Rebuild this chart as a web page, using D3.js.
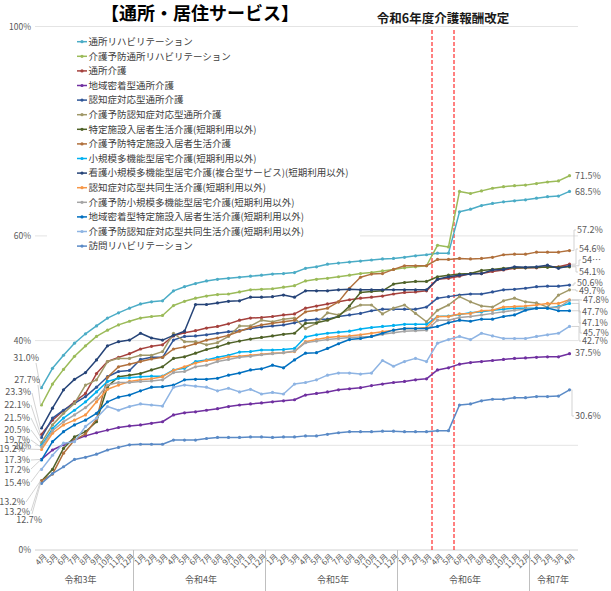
<!DOCTYPE html>
<html><head><meta charset="utf-8">
<script src="https://cdn.jsdelivr.net/npm/d3@7"></script>
<style>
body{margin:0;background:#fff;}
svg{display:block;font-family:"Noto Sans CJK JP","Noto Sans",sans-serif;}
</style>
</head><body>
<svg id="chart" width="611" height="591"></svg>
<script>
// ---------- data ----------
const monthLabels = [
  "4月","5月","6月","7月","8月","9月","10月","11月","12月",
  "1月","2月","3月","4月","5月","6月","7月","8月","9月","10月","11月","12月",
  "1月","2月","3月","4月","5月","6月","7月","8月","9月","10月","11月","12月",
  "1月","2月","3月","4月","5月","6月","7月","8月","9月","10月","11月","12月",
  "1月","2月","3月","4月"];
const yearLabels = ["令和3年","令和4年","令和5年","令和6年","令和7年"];
const yearLengths = [9,12,12,12,4];
const yTicks = [0,20,40,60,100];
const revisionStartIndex = [36, 38];   // 令和6年4月, 6月

const seriesNames = [
  "通所リハビリテーション",
  "介護予防通所リハビリテーション",
  "通所介護",
  "地域密着型通所介護",
  "認知症対応型通所介護",
  "介護予防認知症対応型通所介護",
  "特定施設入居者生活介護(短期利用以外)",
  "介護予防特定施設入居者生活介護",
  "小規模多機能型居宅介護(短期利用以外)",
  "看護小規模多機能型居宅介護(複合型サービス)(短期利用以外)",
  "認知症対応型共同生活介護(短期利用以外)",
  "介護予防小規模多機能型居宅介護(短期利用以外)",
  "地域密着型特定施設入居者生活介護(短期利用以外)",
  "介護予防認知症対応型共同生活介護(短期利用以外)",
  "訪問リハビリテーション"];

const tsushoReha = [31.0,34.7,37.2,39.5,41.3,42.8,44.3,45.3,46.2,47.0,47.4,47.6,49.5,50.3,50.9,51.4,51.7,51.9,52.1,52.3,52.5,52.7,52.8,53.0,
  53.8,54.1,54.6,54.8,55.0,55.2,55.4,55.6,55.7,55.9,56.2,56.4,
  56.7,56.7,64.6,65.1,65.8,66.2,66.5,66.7,66.9,67.2,67.5,67.6,68.5];
const yoboTsushoReha = [27.7,31.7,34.5,37.0,39.0,40.8,42.0,43.0,43.7,44.3,44.6,44.8,46.7,47.5,48.1,48.5,48.8,48.9,49.3,49.7,49.8,49.9,50.2,50.5,
  51.4,51.7,51.9,52.2,52.5,52.8,53.0,53.3,53.6,53.9,54.1,54.3,
  58.2,57.9,68.5,68.1,68.6,69.1,69.4,69.6,69.7,70.0,70.3,70.5,71.5];
const tsushoKaigo = [22.1,24.8,26.6,28.3,29.9,33.7,36.0,36.8,37.5,38.4,38.9,39.2,40.9,41.5,41.9,42.4,42.7,43.2,43.9,44.3,44.4,44.6,44.9,45.1,
  46.2,46.6,47.0,47.4,47.8,48.1,48.3,48.5,48.9,49.2,49.3,49.5,
  51.7,51.9,52.3,52.8,52.8,53.2,53.5,53.8,53.9,53.9,54.1,54.1,54.6];
const chiikiTsusho = [17.3,19.1,20.1,21.0,21.8,22.4,22.9,23.4,23.7,23.9,24.2,24.5,25.8,26.2,26.4,26.7,27.0,27.4,27.7,27.9,28.1,28.3,28.5,28.7,
  29.6,29.9,30.2,30.6,30.8,31.0,31.4,31.7,32.0,32.2,32.5,32.7,
  34.4,34.8,35.5,35.8,36.0,36.2,36.4,36.6,36.7,36.8,36.9,36.9,37.5];
const ninchiTsusho = [21.5,25.2,26.7,28.0,29.3,31.1,33.1,34.1,34.3,36.4,36.8,36.8,40.1,40.8,40.9,41.1,41.4,41.7,41.9,42.3,42.6,42.8,43.0,43.4,
  43.9,44.1,44.1,44.6,44.9,45.2,45.7,46.0,46.0,46.0,46.0,46.4,
  48.1,48.4,48.7,48.9,48.9,49.3,49.7,49.8,50.0,50.3,50.4,50.4,50.6];
const yoboNinchiTsusho = [20.5,23.9,26.1,28.0,31.5,32.5,36.0,36.6,36.6,37.2,37.2,37.9,41.4,39.8,39.8,39.2,39.6,40.8,42.8,42.8,43.9,43.6,44.1,44.3,
  42.3,43.3,45.3,44.9,46.0,46.8,46.8,45.1,46.2,46.8,45.2,43.6,
  45.8,46.8,48.4,47.4,46.6,46.4,47.6,48.1,47.4,47.2,46.4,48.7,49.7];
const tokutei = [13.2,15.4,19.4,21.6,22.6,24.5,31.2,33.1,33.4,33.7,34.4,35.0,36.6,36.9,37.6,38.3,38.8,39.5,39.9,40.3,40.6,40.9,41.2,41.4,
  43.3,43.4,43.9,44.6,46.6,49.2,49.4,49.5,50.8,51.1,51.3,51.3,
  52.2,52.5,52.7,52.8,53.4,53.6,53.8,53.9,53.9,54.0,54.0,54.0,54.1];
const yoboTokutei = [13.2,14.5,18.5,21.0,22.2,25.0,33.0,35.0,35.5,36.0,36.5,36.8,38.4,38.8,39.4,40.1,40.5,41.0,41.8,42.5,43.0,43.3,43.6,43.9,
  45.5,45.8,46.2,47.4,50.0,52.1,52.7,52.8,53.6,54.3,54.3,54.3,
  55.5,55.5,55.7,55.6,55.7,55.9,56.4,56.5,56.5,56.9,56.9,56.9,57.2];
const shokibo = [20.0,23.2,25.2,26.7,28.3,30.2,32.2,32.8,32.9,33.1,33.2,33.2,34.4,34.7,36.0,36.3,36.8,37.2,37.8,37.9,38.2,38.2,38.3,38.5,
  40.7,41.1,41.4,41.6,41.8,42.2,42.5,42.7,42.9,43.1,43.1,43.1,
  44.6,44.7,45.0,45.3,45.5,45.8,46.0,46.2,46.2,46.2,46.2,46.5,47.1];
const kangoShokibo = [23.3,27.1,30.6,32.6,33.9,36.3,39.0,39.8,40.1,41.4,40.5,40.1,41.0,41.8,46.9,46.9,47.2,47.5,47.6,48.3,48.3,48.4,48.7,48.3,
  49.5,49.5,49.5,49.7,49.8,49.7,49.7,49.7,49.7,49.7,49.7,49.7,
  51.7,52.2,52.5,52.7,52.8,53.5,53.6,54.1,54.0,54.1,54.4,53.8,54.3];
const ninchiGH = [19.2,22.3,23.9,24.8,25.8,28.3,30.7,31.5,32.2,32.5,32.7,33.1,34.3,35.0,35.7,36.2,36.4,36.9,37.0,37.2,37.4,37.6,37.7,37.9,
  39.8,40.2,40.6,40.8,40.9,41.1,41.4,41.7,42.0,42.3,42.3,42.5,
  44.6,44.6,45.1,45.2,45.7,45.8,46.4,46.5,46.6,46.8,47.1,47.1,47.8];
const yoboShokibo = [19.7,22.8,24.5,25.8,27.2,29.0,31.5,32.0,32.0,32.2,32.3,32.5,33.9,34.1,35.0,35.3,36.0,36.4,36.8,37.0,37.3,37.5,37.7,38.0,
  39.6,39.9,40.2,40.4,40.6,40.7,40.8,41.2,41.5,41.8,41.9,42.0,
  43.9,43.9,44.4,44.6,44.9,45.2,45.5,45.8,46.0,46.2,46.3,46.3,47.7];
const chiikiTokutei = [17.2,20.7,22.6,23.9,24.8,26.1,28.3,29.2,29.6,30.4,31.1,31.2,31.5,32.5,32.6,32.6,32.8,33.4,33.8,34.4,34.6,35.3,34.8,36.3,
  37.6,37.7,38.5,39.4,40.2,40.4,40.8,41.4,42.0,42.3,42.3,42.3,
  42.7,43.4,43.9,43.7,44.1,44.1,44.6,44.9,45.8,46.2,46.2,45.7,45.7];
const yoboNinchiGH = [15.4,18.1,20.4,20.7,23.6,25.2,27.4,26.7,27.4,27.9,27.7,27.5,31.1,31.5,31.3,31.1,30.4,30.9,30.2,30.7,29.8,30.1,29.8,31.7,
  32.0,32.5,33.4,33.8,33.8,33.6,33.8,36.2,35.1,36.0,36.6,36.0,
  39.5,40.2,40.8,40.2,41.4,40.9,40.4,40.4,40.4,40.8,41.1,41.4,42.7];
const homonReha = [12.7,14.6,15.9,17.3,17.7,18.3,19.1,19.6,20.1,20.2,20.2,20.2,21.0,21.0,21.0,21.3,21.5,21.5,21.5,21.6,21.6,21.5,21.6,21.6,
  21.8,21.8,22.1,22.4,22.6,22.6,22.6,22.7,22.7,22.6,22.6,22.6,
  22.8,22.8,27.7,27.9,28.5,28.8,28.8,29.1,29.1,29.3,29.3,29.4,30.6];

const seriesValues = [tsushoReha, yoboTsushoReha, tsushoKaigo, chiikiTsusho, ninchiTsusho,
  yoboNinchiTsusho, tokutei, yoboTokutei, shokibo, kangoShokibo, ninchiGH, yoboShokibo,
  chiikiTokutei, yoboNinchiGH, homonReha];

// ---------- styles / layout ----------
const colors = ["#4BACC6","#9BBB59","#A5413D","#7030A0","#2F5597","#A09868","#4F6228",
  "#B0703C","#00B0F0","#264478","#F79646","#A5A5A5","#0070C0","#8EB4E3","#5A8AC6"];
// start labels: [right edge x, label y, leader start x, leader start y] (null = hidden)
const startLayout = [
  [39,358,36,363],[40,380,38,385],[30,405,31,405],[30,460,31,460],[30,418,31,418],
  [30,430,31,430],[25,502,26,502],[30,512,31,511],null,[31,392,32,393],
  [25,449,26,449],[30,440,31,440],[30,470,31,469],[30,483,31,482],[42,520,32,514]];
// end labels: [left x, label y, truncated]
const endLayout = [
  [575,192],[575,176],[579,249],[575,353],[577,283],[579,291],[579,272],[577,230],
  [582,323],[582,260,true],[583,300],[582,312],[583,333],[582,341],[575,416]];

const svg = d3.select("#chart");
const x = d3.scalePoint().domain(d3.range(monthLabels.length)).range([41.5, 569.5]);
const y = d3.scaleLinear().domain([0,100]).range([550, 26.5]);
const step = x.step();
const fmt = d3.format(".1f");
const grey = "#595959";
const labelFont = "9px";

// gridlines
svg.append("g").selectAll("line").data(yTicks).join("line")
  .attr("x1",35).attr("x2",578).attr("y1",d=>y(d)).attr("y2",d=>y(d))
  .attr("stroke",d=>d===0?"#d0d0d0":"#e4e4e4").attr("stroke-width",1);

// y axis labels
const yAxis = d3.axisLeft(y).tickValues(yTicks).tickFormat(d=>d+"%").tickSize(0).tickPadding(0);
const ya = svg.append("g").attr("transform","translate(31,0)").call(yAxis);
ya.select(".domain").remove();
ya.selectAll("text").attr("fill",grey).style("font-size","8.5px").style("font-family",'"Noto Sans CJK JP",sans-serif');

// x axis month labels
const xl = svg.append("g");
xl.selectAll("text").data(monthLabels).join("text")
  .attr("transform",(d,i)=>`translate(${x(i)+4},555) rotate(-45)`)
  .attr("text-anchor","end").attr("dy","0.35em")
  .attr("fill",grey).style("font-size","8px").text(d=>d);

// year groups
let cum = 0;
const groups = yearLabels.map((lab,k)=>{ const s=cum; cum+=yearLengths[k]; return {lab,s,e:cum-1}; });
svg.append("g").selectAll("line").data(groups.slice(1)).join("line")
  .attr("x1",d=>x(d.s)-step/2-1.5).attr("x2",d=>x(d.s)-step/2-1.5)
  .attr("y1",550).attr("y2",591).attr("stroke","#bfbfbf");
svg.append("g").selectAll("text").data(groups).join("text")
  .attr("x",(d,k)=>(x(d.s)+x(d.e))/2 - (k===0?5:0)).attr("y",583).attr("text-anchor","middle")
  .attr("fill",grey).style("font-size","9px").text(d=>d.lab);

// revision dashed lines
svg.append("g").selectAll("line").data(revisionStartIndex).join("line")
  .attr("x1",d=>x(d)-step/2).attr("x2",d=>x(d)-step/2)
  .attr("y1",30).attr("y2",550)
  .attr("stroke","#FF0000").attr("stroke-width",1).attr("stroke-dasharray","4,2");

// series lines
const line = d3.line().x((d,i)=>x(i)).y(d=>y(d));
const sg = svg.append("g").selectAll("g").data(seriesValues).join("g");
sg.append("path").attr("d",d=>line(d)).attr("fill","none")
  .attr("stroke",(d,i)=>colors[i]).attr("stroke-width",1.5).attr("stroke-linejoin","round");
sg.each(function(vals,si){
  d3.select(this).selectAll("circle").data(vals).join("circle")
    .attr("cx",(d,i)=>x(i)).attr("cy",d=>y(d)).attr("r",1.6).attr("fill",colors[si]);
});

// start labels
const sl = svg.append("g");
seriesValues.forEach((vals,i)=>{
  const L = startLayout[i]; if(!L) return;
  sl.append("line").attr("x1",L[2]).attr("y1",L[3]).attr("x2",x(0)-1).attr("y2",y(vals[0]))
    .attr("stroke","#c8c8c8").attr("stroke-width",0.8);
  sl.append("text").attr("x",L[0]).attr("y",L[1]).attr("dy","0.35em").attr("text-anchor","end")
    .attr("fill",grey).style("font-size",labelFont).text(fmt(vals[0])+"%");
});
// end labels
const el = svg.append("g");
seriesValues.forEach((vals,i)=>{
  const L = endLayout[i]; const last = vals[vals.length-1];
  const px = x(vals.length-1), py = y(last);
  if (Math.abs(L[1]-py) > 3 || L[0]-px > 6)
    el.append("polyline").attr("points",`${px+2},${py} ${L[0]-3},${py} ${L[0]-3},${L[1]} ${L[0]-1},${L[1]}`)
      .attr("fill","none").attr("stroke","#c8c8c8").attr("stroke-width",0.8);
  el.append("text").attr("x",L[0]).attr("y",L[1]).attr("dy","0.35em")
    .attr("fill",grey).style("font-size",labelFont)
    .text(L[2] ? Math.floor(last)+"…" : fmt(last)+"%");
});

// legend
const lg = svg.append("g");
lg.append("rect").attr("x",47).attr("y",32).attr("width",313).attr("height",222).attr("fill","#fff");
const li = lg.selectAll("g").data(seriesNames).join("g")
  .attr("transform",(d,i)=>`translate(0,${41.7+14.6*i})`);
li.append("line").attr("x1",77).attr("x2",87).attr("stroke",(d,i)=>colors[i]).attr("stroke-width",1.5);
li.append("circle").attr("cx",82).attr("r",1.6).attr("fill",(d,i)=>colors[i]);
li.append("text").attr("x",88.5).attr("dy","0.35em").attr("fill","#404040")
  .style("font-size","9.5px").text(d=>d);

// titles
svg.append("text").attr("x",200).attr("y",20).attr("text-anchor","middle")
  .style("font-size","18px").style("font-weight","bold").attr("fill","#000").text("【通所・居住サービス】");
svg.append("text").attr("x",(x(36)+x(38))/2 - step/2).attr("y",23).attr("text-anchor","middle")
  .style("font-size","12.5px").style("font-weight","bold").attr("fill","#1a1a1a").text("令和6年度介護報酬改定");
</script>
</body></html>
